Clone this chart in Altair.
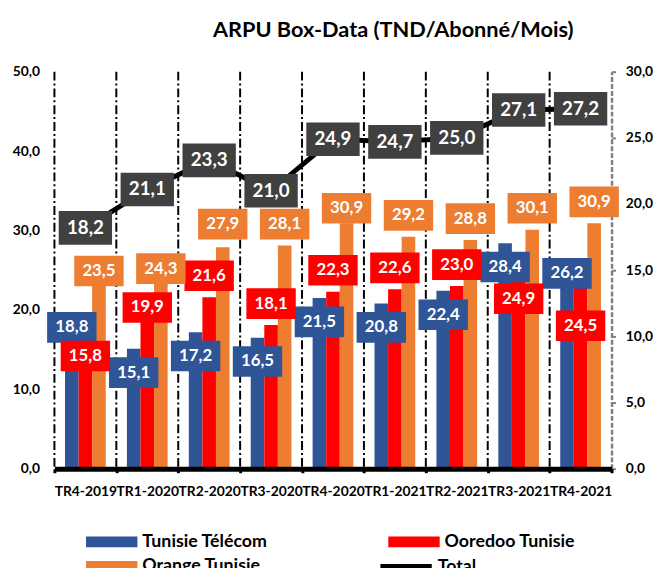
import altair as alt
import pandas as pd

# ---------------- data ----------------
quarters = ["TR4-2019", "TR1-2020", "TR2-2020", "TR3-2020", "TR4-2020",
            "TR1-2021", "TR2-2021", "TR3-2021", "TR4-2021"]
tunisie_telecom = [18.8, 15.1, 17.2, 16.5, 21.5, 20.8, 22.4, 28.4, 26.2]
ooredoo = [15.8, 19.9, 21.6, 18.1, 22.3, 22.6, 23.0, 24.9, 24.5]
orange = [23.5, 24.3, 27.9, 28.1, 30.9, 29.2, 28.8, 30.1, 30.9]
total = [18.2, 21.1, 23.3, 21.0, 24.9, 24.7, 25.0, 27.1, 27.2]

series_names = ["Tunisie Télécom", "Ooredoo Tunisie", "Orange Tunisie"]
series_colors = ["#2F5597", "#FF0000", "#ED7D31"]
total_name = "Total"

# ---------------- label placement (shift of each value label, in axis units) ----------------
tt_label_shift = [-1.0, -3.0, -3.0, -3.0, -3.0, -3.0, -3.0, -3.0, -1.6]
oo_label_shift = [-1.6, 0.4, 2.7, 2.7, 2.7, 2.7, 2.7, -3.5, -6.5]
or_label_shift = [1.4, 0.9, 2.9, 2.7, 1.9, 2.7, 2.7, 2.7, 2.7]


def fmt(v):
    return f"{v:.1f}".replace(".", ",")


rows = []
for serie, vals, shifts in zip(series_names, [tunisie_telecom, ooredoo, orange],
                               [tt_label_shift, oo_label_shift, or_label_shift]):
    for q, v, s in zip(quarters, vals, shifts):
        rows.append({"quarter": q, "serie": serie, "value": v, "label": fmt(v), "shift": s})
bars_df = pd.DataFrame(rows)
total_df = pd.DataFrame({"quarter": quarters, "value": total,
                         "label": [fmt(v) for v in total], "serie": total_name})

FONT = "Lato"
num_expr = "replace(format(datum.value, '.1f'), '.', ',')"
BOX = "M-1,-0.62H1V0.62H-1Z"
TBOX = "M-1,-0.63H1V0.63H-1Z"

x_scale = alt.Scale(domain=quarters, paddingInner=0, paddingOuter=0)
xoff_scale = alt.Scale(domain=series_names, paddingInner=0, paddingOuter=0.78)
color_scale = alt.Scale(domain=series_names, range=series_colors)
y_left = alt.Scale(domain=[0, 50])
y_right = alt.Scale(domain=[0, 30])

x_axis = alt.Axis(labelAngle=0, tickBand="extent", domainColor="black", domainWidth=5,
                  tickColor="black", tickWidth=3, tickSize=4, labelFont=FONT,
                  labelFontSize=14, labelFontWeight="bold", labelColor="black",
                  labelPadding=12, labelOverlap=False, grid=False, zindex=1)


def x_enc(**kw):
    return alt.X("quarter:N", scale=x_scale, sort=quarters, title=None, axis=x_axis, **kw)


xoff_enc = alt.XOffset("serie:N", scale=xoff_scale, sort=series_names)

grid = alt.Chart(total_df).mark_rule(color="black", strokeWidth=2, strokeDash=[9, 3, 2, 3]).encode(
    x=x_enc(bandPosition=0),
)

bars = alt.Chart(bars_df).mark_bar().encode(
    x=x_enc(),
    xOffset=xoff_enc,
    y=alt.Y("value:Q", scale=y_left, title=None,
            axis=alt.Axis(orient="left", values=[0, 10, 20, 30, 40, 50], labelExpr=num_expr,
                          grid=False, domain=False, ticks=False, labelPadding=15, labelFont=FONT,
                          labelFontSize=14, labelFontWeight="bold", labelColor="black")),
    color=alt.Color("serie:N", scale=color_scale, sort=series_names, title=None,
                    legend=alt.Legend(orient="none", legendX=49, legendY=467, columns=2,
                                      direction="horizontal",
                                      columnPadding=122, rowPadding=7,
                                      symbolType="M-5.2,-1.1H5.2V1.1H-5.2Z", symbolSize=100,
                                      symbolStrokeWidth=0, symbolOpacity=1,
                                      labelFont=FONT, labelFontSize=18, labelFontWeight="bold",
                                      labelColor="black", labelOffset=22)),
)

label_y = alt.Y("pos:Q", scale=y_left, axis=None)

boxes = alt.Chart(bars_df).transform_calculate(pos="datum.value + datum.shift").mark_point(
    shape=BOX, size=2500, filled=True, opacity=1, strokeWidth=0).encode(
    x=x_enc(), xOffset=xoff_enc, y=label_y,
    color=alt.Color("serie:N", scale=color_scale, sort=series_names, legend=None),
)

texts = alt.Chart(bars_df).transform_calculate(pos="datum.value + datum.shift").mark_text(
    color="white", font=FONT, fontWeight="bold", fontSize=17, baseline="middle", align="center").encode(
    x=x_enc(), xOffset=xoff_enc, y=label_y, text="label:N",
)

y_right_none = alt.Y("value:Q", scale=y_right, axis=None)

line = alt.Chart(total_df).mark_line(strokeWidth=5).encode(
    x=x_enc(),
    y=alt.Y("value:Q", scale=y_right, title=None,
            axis=alt.Axis(orient="right", values=[0, 5, 10, 15, 20, 25, 30], labelExpr=num_expr,
                          grid=False, domain=True, domainColor="#808080", domainDash=[5, 2],
                          domainWidth=2.5, ticks=True, tickColor="#808080", tickSize=4,
                          tickWidth=2, labelPadding=10, labelFont=FONT, labelFontSize=14,
                          labelFontWeight="bold", labelColor="black")),
    stroke=alt.Stroke("serie:N", scale=alt.Scale(domain=[total_name], range=["black"]), title=None,
                      legend=alt.Legend(orient="none", legendX=347, legendY=493,
                                        symbolType="M-5.2,0H5.2", symbolSize=100,
                                        symbolStrokeWidth=7,
                                        labelFont=FONT, labelFontSize=18, labelFontWeight="bold",
                                        labelColor="black", labelOffset=23)),
)

tboxes = alt.Chart(total_df).mark_point(shape=TBOX, size=2916, filled=True, opacity=1,
                                        strokeWidth=0, color="#404040").encode(
    x=x_enc(), y=y_right_none,
)

ttexts = alt.Chart(total_df).mark_text(color="white", font=FONT, fontWeight="bold", fontSize=19,
                                       baseline="middle", align="center").encode(
    x=x_enc(), y=y_right_none, text="label:N",
)

chart = alt.layer(grid, bars, boxes, texts, line, tboxes, ttexts).resolve_scale(
    y="independent"
).properties(
    width=564, height=402,
    title=alt.TitleParams("ARPU Box-Data  (TND/Abonné/Mois)", font=FONT, fontSize=22,
                          fontWeight="bold", color="black", anchor="middle", dx=61, offset=23),
    autosize=alt.AutoSizeParams(type="none"),
    padding={"left": 47, "top": 61, "right": 44, "bottom": 97},
).configure_view(stroke=None)

chart.save("out.html", embed_options={"renderer": "svg", "actions": False})
